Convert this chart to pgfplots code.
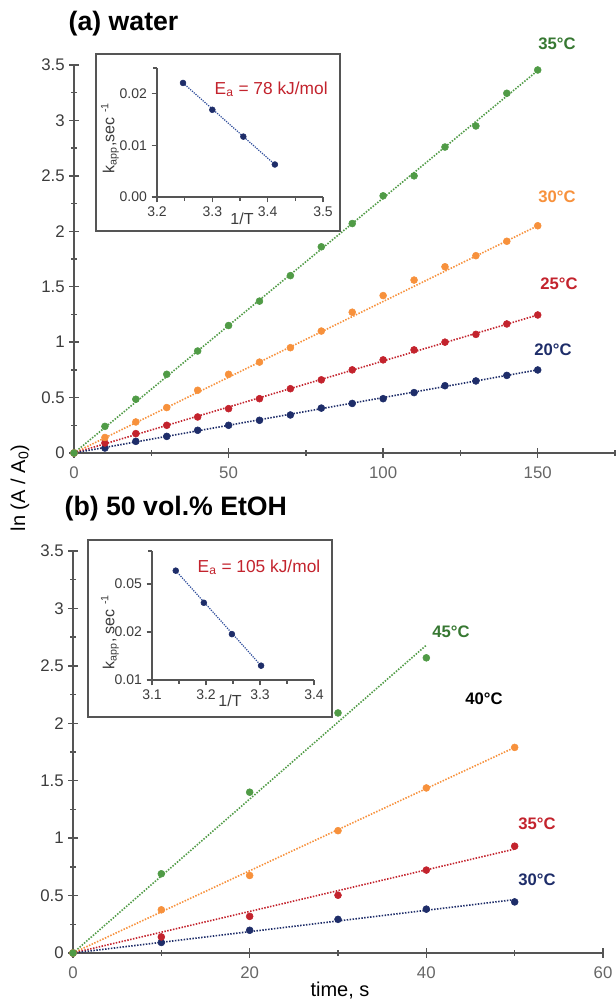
\documentclass[border=0pt]{standalone}
\usepackage{fontspec}
\setmainfont{Liberation Sans}
\usepackage{pgfplots}
\pgfplotsset{compat=1.18}
\definecolor{cgreen}{RGB}{80,155,70}
\definecolor{cgreenD}{RGB}{55,120,50}
\definecolor{corange}{RGB}{247,145,60}
\definecolor{cred}{RGB}{195,35,45}
\definecolor{cnavy}{RGB}{30,45,105}
\definecolor{cblue}{RGB}{45,75,155}
\definecolor{axgray}{RGB}{85,85,85}
\definecolor{txgray}{RGB}{60,60,60}
\newcommand{\fs}[1]{\fontsize{#1}{#1}\selectfont}
\pgfplotsset{
  mainax/.style={scale only axis, axis lines*=left, clip=false,
    axis line style={axgray, line width=1.1pt},
    every tick/.style={axgray, line width=1.1pt},
    tick align=center, major tick length=7pt, minor tick length=4pt,
    ymin=0, ymax=3.5, ytick={0,0.5,...,3.5}, minor ytick={0.25,0.75,...,3.25},
    yticklabels={0,0.5,1,1.5,2,2.5,3,3.5},
    tick label style={font=\fs{12.6}, text=txgray},
    xticklabel style={yshift=-3pt, text=axgray!90},
    /pgf/number format/assume math mode=true},
  inax/.style={scale only axis, axis lines*=left, clip=false,
    axis line style={axgray, line width=0.9pt},
    every tick/.style={axgray, line width=0.9pt},
    tick align=outside, major tick length=4pt, minor tick length=3pt,
    scaled ticks=false,
    tick label style={font=\fs{10.5}, text=txgray},
    /pgf/number format/assume math mode=true},
  pts/.style={only marks, mark=*, mark size=2.6pt, mark options={draw=#1, fill=#1}},
  fit/.style={no marks, draw=#1, line width=1.2pt, dash pattern=on 1.1pt off 1.1pt},
}
\begin{document}
\begin{tikzpicture}
\path[use as bounding box] (0,0) rectangle (462pt,-753.75pt);
% ---------------- panel (a)
\begin{axis}[mainax, at={(55.5pt,-339.75pt)}, anchor=south west,
  width=405.75pt, height=291pt, xmin=0, xmax=175,
  xtick={0,50,100,150}, minor xtick={25,75,125,175}]
\addplot[fit=cgreen] coordinates {(0,0) (150,3.45)};
\addplot[fit=corange] coordinates {(0,0) (150,2.05)};
\addplot[fit=cred] coordinates {(0,0) (150,1.245)};
\addplot[fit=cnavy] coordinates {(0,0) (150,0.75)};
\addplot[pts=cnavy] coordinates {(0,0) (10,0.045) (20,0.105) (30,0.15) (40,0.205) (50,0.25) (60,0.295) (70,0.343) (80,0.405) (90,0.447) (100,0.49) (110,0.545) (120,0.607) (130,0.65) (140,0.70) (150,0.749)};
\addplot[pts=cred] coordinates {(0,0) (10,0.09) (20,0.175) (30,0.25) (40,0.325) (50,0.40) (60,0.49) (70,0.58) (80,0.66) (90,0.75) (100,0.84) (110,0.93) (120,1.00) (130,1.07) (140,1.164) (150,1.245)};
\addplot[pts=corange] coordinates {(0,0) (10,0.14) (20,0.28) (30,0.41) (40,0.566) (50,0.71) (60,0.82) (70,0.95) (80,1.10) (90,1.27) (100,1.42) (110,1.56) (120,1.68) (130,1.78) (140,1.91) (150,2.05)};
\addplot[pts=cgreen] coordinates {(0,0) (10,0.24) (20,0.485) (30,0.71) (40,0.92) (50,1.15) (60,1.37) (70,1.60) (80,1.86) (90,2.07) (100,2.32) (110,2.50) (120,2.76) (130,2.95) (140,3.245) (150,3.455)};
\end{axis}
\draw[axgray, line width=1pt, fill=white] (72pt,-40.5pt) rectangle (255pt,-173.25pt);
\begin{axis}[inax, at={(117.75pt,-147.75pt)}, anchor=south west,
  width=124.5pt, height=96.75pt, xmin=3.2, xmax=3.5, ymin=0, ymax=0.025,
  xtick={3.2,3.3,3.4,3.5}, xticklabels={3.2,3.3,3.4,3.5}, minor xtick={3.25,3.35,3.45},
  ytick={0,0.01,0.02}, yticklabels={0.00,0.01,0.02}, minor ytick={0.025}]
\addplot[no marks, draw=cblue, line width=0.9pt, dash pattern=on 0.9pt off 0.9pt] coordinates {(3.247,0.0221) (3.413,0.0063)};
\addplot[pts=cnavy, mark size=2.2pt] coordinates {(3.247,0.0221) (3.30,0.0169) (3.356,0.0117) (3.413,0.0063)};
\end{axis}
\node[font=\fs{12}, text=txgray] at (181.5pt,-164.25pt) {1/T};
\node[font=\fs{12}, text=txgray, rotate=90] at (82.5pt,-103.5pt) {k\textsubscript{app},sec \textsuperscript{-1}};
\node[font=\fs{13}, text=cred, anchor=west] at (157.5pt,-67pt) {E\textsubscript{a} = 78 kJ/mol};
% labels a
\node[font=\bfseries\fs{12.5}, text=cgreenD] at (417.75pt,-33pt) {35°C};
\node[font=\bfseries\fs{12.5}, text=corange] at (417.75pt,-147.75pt) {30°C};
\node[font=\bfseries\fs{12.5}, text=cred] at (419.25pt,-213pt) {25°C};
\node[font=\bfseries\fs{12.5}, text=cnavy] at (414.75pt,-262.5pt) {20°C};
\node[font=\bfseries\fs{20}, anchor=west] at (48pt,-18pt) {(a) water};
% ---------------- panel (b)
\begin{axis}[mainax, at={(54.75pt,-714.75pt)}, anchor=south west,
  width=397.5pt, height=301.5pt, xmin=0, xmax=60,
  xtick={0,20,40,60}, minor xtick={10,30,50}]
\addplot[fit=cgreen] coordinates {(0,0) (40,2.68)};
\addplot[fit=corange] coordinates {(0,0) (50,1.79)};
\addplot[fit=cred] coordinates {(0,0) (50,0.905)};
\addplot[fit=cnavy] coordinates {(0,0) (50,0.465)};
\addplot[pts=cnavy] coordinates {(0,0) (10,0.092) (20,0.198) (30,0.293) (40,0.382) (50,0.445)};
\addplot[pts=cred] coordinates {(0,0) (10,0.14) (20,0.319) (30,0.503) (40,0.722) (50,0.93)};
\addplot[pts=corange] coordinates {(0,0) (10,0.376) (20,0.675) (30,1.065) (40,1.437) (50,1.79)};
\addplot[pts=cgreen] coordinates {(0,0) (10,0.69) (20,1.40) (30,2.09) (40,2.57)};
\end{axis}
\draw[axgray, line width=1pt, fill=white] (66pt,-405pt) rectangle (249pt,-537.75pt);
\begin{axis}[inax, at={(114pt,-510pt)}, anchor=south west,
  width=121.5pt, height=96.75pt, xmin=3.1, xmax=3.4, ymode=log, ymin=0.01, ymax=0.0644,
  xtick={3.1,3.2,3.3,3.4}, xticklabels={3.1,3.2,3.3,3.4}, minor xtick={3.15,3.25,3.35},
  ytick={0.01,0.02,0.04}, yticklabels={0.01,0.02,0.05}, minor ytick={0.0644}]
\addplot[no marks, draw=cblue, line width=0.9pt, dash pattern=on 0.9pt off 0.9pt] coordinates {(3.144,0.0485) (3.302,0.0123)};
\addplot[pts=cnavy, mark size=2.2pt] coordinates {(3.144,0.0485) (3.196,0.0305) (3.248,0.0194) (3.302,0.0123)};
\end{axis}
\node[font=\fs{12}, text=txgray] at (172.5pt,-525.75pt) {1/T};
\node[font=\fs{12}, text=txgray, rotate=90] at (82.5pt,-474pt) {k\textsubscript{app}, sec \textsuperscript{-1}};
\node[font=\fs{13}, text=cred, anchor=west] at (144.75pt,-425.25pt) {E\textsubscript{a} = 105 kJ/mol};
% labels b
\node[font=\bfseries\fs{12.5}, text=cgreenD] at (338.25pt,-474pt) {45°C};
\node[font=\bfseries\fs{12.5}, text=black] at (363pt,-524.25pt) {40°C};
\node[font=\bfseries\fs{12.5}, text=cred] at (402.75pt,-618pt) {35°C};
\node[font=\bfseries\fs{12.5}, text=cnavy] at (402.75pt,-660pt) {30°C};
\node[font=\bfseries\fs{20}, anchor=west] at (45pt,-381.75pt) {(b) 50 vol.\% EtOH};
% common labels
\node[font=\fs{15}, rotate=90] at (15pt,-366pt) {ln (A / A\textsubscript{0})};
\node[font=\fs{15}] at (255pt,-743pt) {time, s};
\end{tikzpicture}
\end{document}
